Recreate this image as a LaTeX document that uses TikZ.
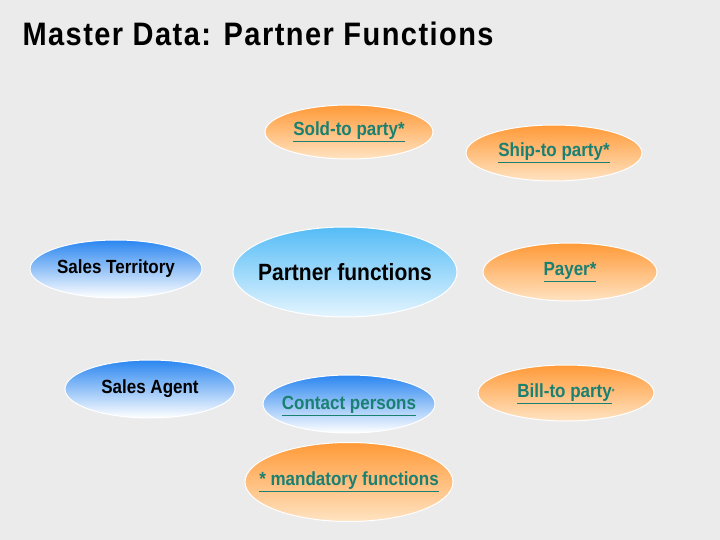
\documentclass[tikz,border=0pt]{standalone}
\usepackage{fontspec}
\setmainfont{Liberation Sans}
\newfontfamily\titlefont[LetterSpace=5]{Liberation Sans}
\usetikzlibrary{shapes.geometric}

\definecolor{bggray}{HTML}{EBEBEB}
\definecolor{linkgreen}{HTML}{1A8072}
\definecolor{orangetop}{HTML}{FF9A38}
\definecolor{orangebot}{HTML}{FFE3C2}
\definecolor{bluetop}{HTML}{2A86F0}
\definecolor{lightbluetop}{HTML}{55BCF6}
\definecolor{lightbluebot}{HTML}{E4F5FF}

\newcommand{\tall}[1]{\scalebox{1}[1.12]{#1}}

\tikzset{
  oval/.style={ellipse,draw=white,line width=1pt,inner sep=0pt},
  partnerfn/.style={oval,top color=orangetop,bottom color=orangebot,
    minimum width=172pt,minimum height=56pt},
  salesfn/.style={oval,top color=bluetop,bottom color=white,
    minimum width=172pt,minimum height=58pt},
  linktext/.style={font=\fontsize{17}{19}\selectfont\bfseries,text=linkgreen},
  plaintext/.style={font=\fontsize{17}{19}\selectfont\bfseries}
}

\begin{document}
\begin{tikzpicture}[x=1pt,y=-1pt]
  \useasboundingbox[fill=bggray] (0,0) rectangle (720,540);
  \node[anchor=base west,font=\fontsize{29}{32}\titlefont\bfseries] (title) at (19,46){\tall{Master Data: Partner Functions}};

  % partner functions (orange)
  \node[partnerfn,minimum width=168pt,minimum height=54pt] (soldto) at (349,132){};
  \node[linktext] at (soldto){\tall{\underline{Sold-to party*}}};
  \node[partnerfn,minimum width=176pt] (shipto) at (554,153){};
  \node[linktext] at (shipto){\tall{\underline{Ship-to party*}}};
  \node[partnerfn,minimum width=174pt,minimum height=58pt] (payer) at (570,272){};
  \node[linktext] at (payer){\tall{\underline{Payer*}}};
  \node[partnerfn,minimum width=176pt] (billto) at (566,393){};
  \node[linktext] at ([yshift=-1pt]billto){\tall{\underline{Bill-to party}\raisebox{3pt}{\scriptsize *}}};
  \node[partnerfn,minimum width=208pt,minimum height=79pt] (mandatory) at (349,482){};
  \node[linktext] at (mandatory){\tall{\underline{* mandatory functions}}};

  % sales and contacts (blue)
  \node[salesfn] (territory) at (116,269){};
  \node[plaintext] at (territory){\tall{Sales Territory}};
  \node[salesfn,minimum width=170pt] (agent) at (150,389){};
  \node[plaintext] at (agent){\tall{Sales Agent}};
  \node[salesfn] (contact) at (349,404){};
  \node[linktext] at ([yshift=-2pt]contact){\tall{\underline{Contact persons}}};

  \node[oval,top color=lightbluetop,bottom color=lightbluebot,minimum width=224pt,minimum height=90pt] (partner) at (345,272){};
  \node[plaintext,font=\fontsize{21}{24}\selectfont\bfseries] at (partner){\tall{Partner functions}};
\end{tikzpicture}
\end{document}
